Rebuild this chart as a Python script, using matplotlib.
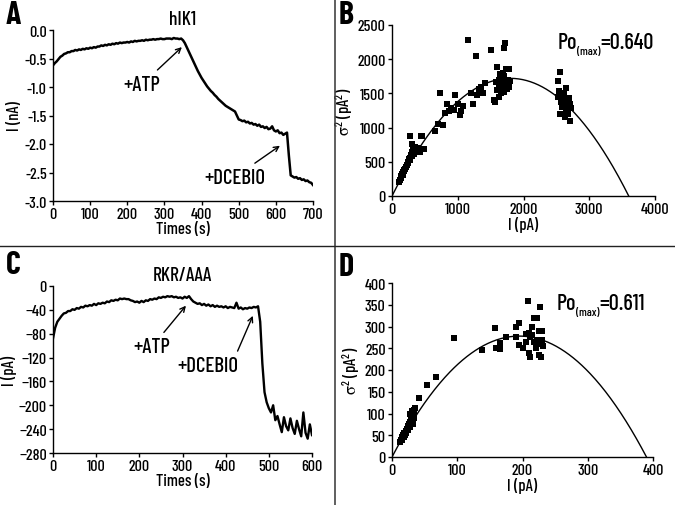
import matplotlib
matplotlib.use("Agg")
import matplotlib.pyplot as plt
import numpy as np
from matplotlib.lines import Line2D

FONT = 'Barlow Condensed'
plt.rcParams['font.family'] = [FONT, 'DejaVu Sans']
plt.rcParams['font.weight'] = 500
plt.rcParams['axes.titleweight'] = 500
plt.rcParams['axes.labelweight'] = 500
plt.rcParams['mathtext.fontset'] = 'custom'
plt.rcParams['mathtext.rm'] = FONT + ':medium'
plt.rcParams['mathtext.it'] = FONT + ':italic'
plt.rcParams['mathtext.default'] = 'regular'

# ---------------- Panel A: hIK1 current trace (nA) ----------------
a_time = list(range(0, 705, 5))
a_current = [
    -0.62, -0.58, -0.55, -0.51, -0.47, -0.45, -0.42, -0.41, -0.39, -0.39,
    -0.37, -0.37, -0.35, -0.36, -0.34, -0.35, -0.33, -0.34, -0.32, -0.33,
    -0.31, -0.32, -0.30, -0.31, -0.29, -0.29, -0.27, -0.28, -0.26, -0.27,
    -0.25, -0.26, -0.24, -0.25, -0.23, -0.24, -0.22, -0.23, -0.22, -0.22,
    -0.21, -0.22, -0.20, -0.21, -0.19, -0.20, -0.19, -0.19, -0.18, -0.19,
    -0.17, -0.18, -0.17, -0.17, -0.16, -0.17, -0.16, -0.16, -0.15, -0.16,
    -0.16, -0.15, -0.15, -0.15, -0.16, -0.14, -0.15, -0.15, -0.16, -0.15,
    -0.18, -0.23, -0.30, -0.37, -0.44, -0.51, -0.58, -0.65, -0.72, -0.78,
    -0.84, -0.89, -0.94, -0.99, -1.03, -1.07, -1.10, -1.14, -1.17, -1.21,
    -1.24, -1.27, -1.30, -1.33, -1.35, -1.37, -1.39, -1.41, -1.43, -1.50,
    -1.57, -1.58, -1.60, -1.59, -1.62, -1.61, -1.64, -1.63, -1.66, -1.65,
    -1.68, -1.66, -1.70, -1.69, -1.72, -1.70, -1.74, -1.73, -1.69, -1.76,
    -1.78, -1.76, -1.81, -1.80, -1.84, -1.82, -1.80, -2.20, -2.55, -2.57,
    -2.59, -2.58, -2.61, -2.60, -2.63, -2.62, -2.65, -2.64, -2.67, -2.68,
    -2.72,
]

# ---------------- Panel C: RKR/AAA current trace (pA) ----------------
c_time = list(range(0, 605, 5))
c_current = [
    -88, -70, -60, -55, -50, -46, -45, -42, -42, -39,
    -40, -37, -38, -35, -36, -33, -34, -32, -33, -30,
    -32, -29, -30, -28, -29, -26, -27, -24, -25, -23,
    -24, -21, -22, -21, -22, -22, -24, -25, -27, -26,
    -28, -25, -27, -24, -25, -22, -23, -21, -22, -19,
    -20, -18, -19, -17, -18, -17, -19, -18, -20, -19,
    -21, -18, -20, -17, -22, -26, -28, -30, -29, -32,
    -30, -33, -31, -34, -32, -35, -33, -35, -34, -36,
    -34, -37, -35, -36, -37, -28, -38, -36, -39, -37,
    -38, -36, -37, -35, -36, -34, -60, -130, -178, -195,
    -205, -212, -200, -225, -218, -232, -245, -220, -235, -242,
    -222, -238, -248, -226, -240, -252, -212, -246, -256, -232,
    -250,
]

# ---------------- Panel B: variance vs mean (hIK1) ----------------
b_I = [110, 120, 130, 140, 150, 160, 170, 180, 190, 200, 210, 220, 230, 240,
       250, 260, 270, 280, 290, 300, 310, 320, 330, 340, 350, 360, 380, 400,
       420, 450, 480, 280, 440, 460, 300, 650, 700, 730, 780, 800, 830, 870,
       900, 950, 960, 1000, 1030, 1050, 1080, 1150, 1200, 1230, 1280, 1300,
       1320, 1350, 1380, 1420, 1500, 1550, 1570, 1600, 1600, 1620, 1640, 1650,
       1660, 1680, 1700, 1720, 1700, 1720, 1740, 1760, 1780, 1800, 1620, 1660,
       1750, 1690, 1780, 1630, 1710, 1580, 2530, 2560, 2540, 2520, 2550, 2580,
       2600, 2620, 2640, 2660, 2680, 2700, 2650, 2690, 2720, 2610, 2570, 2630,
       2670, 2700]
b_var = [200, 230, 260, 290, 320, 300, 350, 380, 370, 400, 430, 420, 460, 480,
         500, 540, 520, 560, 600, 580, 640, 680, 620, 700, 720, 660, 650, 700,
         640, 680, 690, 880, 880, 870, 760, 950, 1050, 1510, 1040, 1220, 1340, 1250,
         1280, 1260, 1480, 1340, 1180, 1240, 1320, 2280, 1500, 1350, 2050, 1480,
         1560, 1600, 1500, 1650, 2140, 1400, 1380, 1880, 1550, 1700, 1650, 1780,
         1600, 1720, 2170, 2240, 1520, 1650, 1860, 1700, 1600, 1680, 1450, 1500,
         1560, 1800, 1850, 1620, 1760, 1660, 1680, 1820, 1540, 1450, 1200, 1300,
         1420, 1350, 1250, 1300, 1200, 1100, 1580, 1430, 1280, 1500, 1380, 1150,
         1380, 1350]
b_unit_current = 1.911   # pA, single-channel current from fit
b_channels = 1884        # number of channels from fit
b_po = '0.640'

# ---------------- Panel D: variance vs mean (RKR/AAA) ----------------
d_I = [13, 14, 15, 16, 17, 18, 19, 20, 21, 22, 23, 24, 25, 26, 27, 28, 29, 30,
       31, 32, 33, 34, 35, 28, 30, 25, 27, 32, 34, 42, 54, 68, 95, 138, 158,
       160, 165, 165, 175, 190, 190, 195, 195, 200, 205, 208, 210, 210, 212,
       215, 215, 218, 218, 220, 222, 222, 225, 225, 227, 228, 228, 230, 232,
       230, 205, 212, 220]
d_var = [35, 40, 45, 38, 50, 45, 55, 50, 60, 55, 65, 70, 62, 75, 80, 70, 85, 90,
         95, 85, 100, 108, 112, 100, 105, 72, 68, 75, 90, 135, 165, 185, 273, 245,
         297, 250, 262, 248, 275, 275, 300, 308, 258, 250, 265, 358, 240, 285, 230,
         300, 280, 265, 320, 250, 320, 270, 235, 290, 345, 230, 260, 290, 255,
         270, 282, 275, 262]
d_unit_current = 2.851
d_channels = 136.8
d_po = '0.611'

W, H = 675, 506
fig = plt.figure(figsize=(W / 100, H / 100), dpi=100)

def px_axes(l, t, r, b):
    return fig.add_axes([l / W, 1 - b / H, (r - l) / W, (b - t) / H])

axA = px_axes(53, 31, 313, 202)
axB = px_axes(392, 26, 655, 197)
axC = px_axes(53, 287, 312, 454)
axD = px_axes(392, 284, 653, 458)

FS = 11.5
for ax in (axA, axB, axC, axD):
    ax.spines['top'].set_visible(False)
    ax.spines['right'].set_visible(False)
    ax.spines['left'].set_linewidth(1.0)
    ax.spines['bottom'].set_linewidth(1.0)
    ax.tick_params(direction='out', length=3, width=1, labelsize=FS, pad=1.5)

ANN = 15
arrow = dict(arrowstyle='->', color='black', lw=1.0, shrinkA=2, shrinkB=0, mutation_scale=9)

def po_label(ax, x, y, value):
    t1 = ax.text(x, y, 'Po', fontsize=16, ha='left', va='bottom')
    t2 = ax.annotate('(max)', xy=(1, 0.05), xycoords=t1, fontsize=8.5,
                     ha='left', va='center')
    ax.annotate('=' + value, xy=(1, 0), xycoords=(t2, t1), fontsize=16,
                ha='left', va='bottom')

# A
axA.plot(a_time, a_current, color='black', lw=1.8)
axA.set_xlim(0, 700)
axA.set_ylim(-3.0, 0.0)
axA.set_xticks(range(0, 701, 100))
yt = np.arange(-3.0, 0.01, 0.5)
axA.set_yticks(yt)
axA.set_yticklabels([f'{v:.1f}' for v in yt])
axA.set_xlabel('Times (s)', fontsize=12, labelpad=0)
axA.set_ylabel('I (nA)', fontsize=12, labelpad=2)
axA.set_title('hIK1', fontsize=14, pad=4)
axA.annotate('+ATP', xy=(347, -0.30), xytext=(290, -0.95), fontsize=ANN,
             ha='right', va='center', arrowprops=arrow)
axA.annotate('+DCEBIO', xy=(611, -2.03), xytext=(572, -2.58), fontsize=ANN,
             ha='right', va='center', arrowprops=arrow)

# B
axB.scatter(b_I, b_var, marker='s', s=18, color='black', linewidths=0)
Ib = np.linspace(0, b_unit_current * b_channels, 300)
axB.plot(Ib, b_unit_current * Ib - Ib ** 2 / b_channels, color='black', lw=1.0)
axB.set_xlim(0, 4000)
axB.set_ylim(0, 2500)
axB.set_xticks(range(0, 4001, 1000))
axB.set_yticks(range(0, 2501, 500))
axB.set_xlabel('I (pA)', fontsize=12, labelpad=0)
axB.set_ylabel(r'$\sigma^2$ (pA$^2$)', fontsize=12, labelpad=2)
po_label(axB, 2520, 2100, b_po)

# C
axC.plot(c_time, c_current, color='black', lw=1.7)
axC.set_xlim(0, 600)
axC.set_ylim(-280, 0)
axC.set_xticks(range(0, 601, 100))
axC.set_yticks(range(-280, 1, 40))
axC.set_xlabel('Times (s)', fontsize=12, labelpad=0)
axC.set_ylabel('I (pA)', fontsize=12, labelpad=1)
axC.set_title('RKR/AAA', fontsize=14, pad=4)
axC.annotate('+ATP', xy=(308, -33), xytext=(272, -102), fontsize=ANN,
             ha='right', va='center', arrowprops=arrow)
arrow2 = dict(arrow)
arrow2['relpos'] = (0.95, 1.0)
axC.annotate('+DCEBIO', xy=(463, -50), xytext=(288, -134), fontsize=ANN,
             ha='left', va='center', arrowprops=arrow2)

# D
axD.scatter(d_I, d_var, marker='s', s=18, color='black', linewidths=0)
Id = np.linspace(0, d_unit_current * d_channels, 300)
axD.plot(Id, d_unit_current * Id - Id ** 2 / d_channels, color='black', lw=1.0)
axD.set_xlim(0, 400)
axD.set_ylim(0, 400)
axD.set_xticks(range(0, 401, 100))
axD.set_yticks(range(0, 401, 50))
axD.set_xlabel('I (pA)', fontsize=12, labelpad=0)
axD.set_ylabel(r'$\sigma^2$ (pA$^2$)', fontsize=12, labelpad=2)
po_label(axD, 252, 330, d_po)

# panel letters
for letter, x, y in (('A', 13, 16), ('B', 346, 16), ('C', 13, 266), ('D', 346, 268)):
    fig.text(x / W, 1 - y / H, letter, fontsize=23, fontweight='bold', ha='center', va='center')

# separators
fig.add_artist(Line2D([335 / W, 335 / W], [0, 1], color='#444444', lw=1.2, transform=fig.transFigure))
fig.add_artist(Line2D([0, 1], [1 - 247 / H, 1 - 247 / H], color='#222222', lw=1.0, transform=fig.transFigure))

fig.savefig('out.png', dpi=100)
